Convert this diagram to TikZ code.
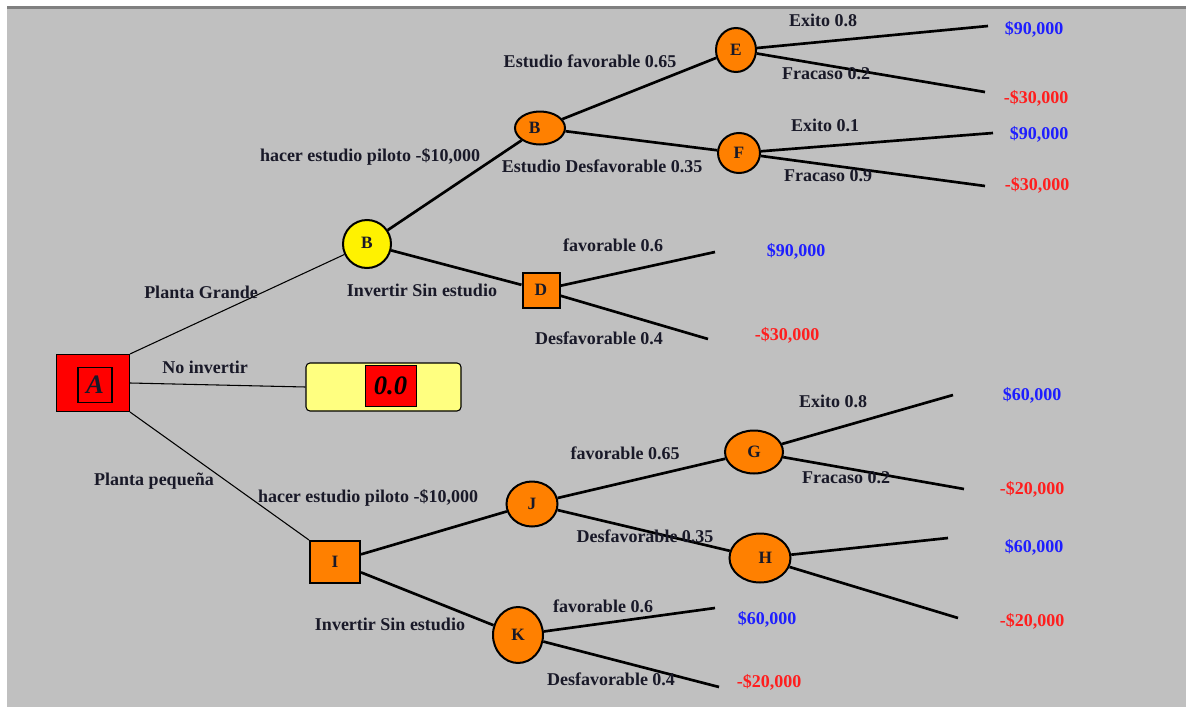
\documentclass[tikz,border=0pt]{standalone}
\usepackage{fontspec}
\setmainfont{Liberation Serif}
\usetikzlibrary{shapes.geometric}
\definecolor{bg}{RGB}{192,192,192}
\definecolor{orng}{RGB}{255,128,0}
\definecolor{txt}{RGB}{25,25,40}
\definecolor{pblue}{RGB}{30,30,255}
\definecolor{pred}{RGB}{255,30,30}
\definecolor{lyel}{RGB}{255,255,128}
\definecolor{topline}{RGB}{128,128,128}
\begin{document}
\begin{tikzpicture}[x=0.75pt,y=-0.75pt,
  lbl/.style={font=\bfseries\fontsize{13.5}{15}\selectfont, text=txt, inner sep=0},
  posv/.style={lbl, text=pblue},
  negv/.style={lbl, text=pred},
  chance/.style={ellipse, draw=black, line width=1.5pt, fill=orng, inner sep=0, text=txt, font=\bfseries\fontsize{13}{14}\selectfont},
  decbox/.style={rectangle, draw=black, line width=1.5pt, fill=orng, inner sep=0, text=txt, font=\bfseries\fontsize{13}{14}\selectfont},
  br/.style={line width=2pt, draw=black},
  thinbr/.style={line width=0.8pt, draw=black}]

\useasboundingbox (0,0) rectangle (1186,707);
\fill[white] (0,0) rectangle (1186,707);
\fill[bg] (7,8) rectangle (1186,707);
\draw[topline, line width=2pt] (7,7.5) -- (1186,7.5);

% decision node A
\node[rectangle, draw=black, line width=0.8pt, fill=red, minimum width=54.75pt, minimum height=42.75pt, inner sep=0] (A) at (93,383) {};
\node[rectangle, draw=black, line width=0.8pt, fill=red, minimum width=25.5pt, minimum height=26.25pt, inner sep=0, font=\bfseries\itshape\fontsize{20}{22}\selectfont, text=txt] (Ain) at (95,385) {A};

% yellow terminal box
\node[rectangle, rounded corners=3pt, draw=black, line width=0.8pt, fill=lyel, minimum width=116.25pt, minimum height=36pt, inner sep=0] (Y) at (383.5,387) {};
\node[rectangle, draw=black, line width=0.6pt, fill=red, minimum width=38.25pt, minimum height=30.75pt, inner sep=0, font=\bfseries\itshape\fontsize{20}{22}\selectfont, text=black] (Yin) at (390.5,385.5) {0.0};

% upper tree
\node[circle, draw=black, line width=1.5pt, fill=yellow, minimum size=36pt, inner sep=0, text=txt, font=\bfseries\fontsize{13}{14}\selectfont] (By) at (367,244) {\raisebox{2pt}{B}};
\node[chance, minimum width=37.5pt, minimum height=24.75pt] (Bo) at (540,128) {\hspace*{-8pt}B};
\node[chance, minimum width=30pt, minimum height=33pt] (E) at (736,50) {E};
\node[chance, minimum width=31.5pt, minimum height=30pt] (F) at (739,153) {F};
\node[decbox, minimum width=27.75pt, minimum height=26.25pt] (D) at (541,290) {D};

% lower tree
\node[decbox, minimum width=37.5pt, minimum height=31.5pt] (I) at (335,562) {\raisebox{-7pt}{I}};
\node[chance, minimum width=38.25pt, minimum height=33.75pt] (J) at (532,504) {J};
\node[chance, minimum width=43.5pt, minimum height=32.25pt] (G) at (754,452) {G};
\node[chance, minimum width=45.75pt, minimum height=36.75pt] (H) at (760,558) {\hspace*{8pt}\raisebox{-3pt}{H}};
\node[chance, minimum width=37.5pt, minimum height=42pt] (K) at (518,635) {K};

% free ends
\coordinate (e1) at (988,26);
\coordinate (e2) at (985,92);
\coordinate (f1) at (993,133);
\coordinate (f2) at (985,186);
\coordinate (d1) at (715,252);
\coordinate (d2) at (708,339);
\coordinate (g1) at (953,395);
\coordinate (g2) at (964,489);
\coordinate (h1) at (948,538);
\coordinate (h2) at (958,618);
\coordinate (k1) at (715,608);
\coordinate (k2) at (719,687);

% connectors
\begin{scope}[on background layer/.style={}]
\draw[thinbr] (A.north east) -- (By);
\draw[thinbr] (A.east) -- (Y.west);
\draw[thinbr] (A.south east) -- (I.north west);
\draw[br] (By) -- (Bo);
\draw[br] (By) -- (D);
\draw[br] (Bo) -- (E);
\draw[br] (Bo) -- (F);
\draw[br] (E) -- (e1);
\draw[br] (E) -- (e2);
\draw[br] (F) -- (f1);
\draw[br] (F) -- (f2);
\draw[br] (D) -- (d1);
\draw[br] (D) -- (d2);
\draw[br] (I) -- (J);
\draw[br] (I) -- (K);
\draw[br] (J) -- (G);
\draw[br] (J) -- (H);
\draw[br] (G) -- (g1);
\draw[br] (G) -- (g2);
\draw[br] (H) -- (h1);
\draw[br] (H) -- (h2);
\draw[br] (K) -- (k1);
\draw[br] (K) -- (k2);
\end{scope}

% labels upper
\node[lbl] (l1) at (823,20) {Exito 0.8};
\node[lbl] (l2) at (826,74) {Fracaso 0.2};
\node[lbl] (l3) at (825,125) {Exito 0.1};
\node[lbl] (l4) at (828,176) {Fracaso 0.9};
\node[lbl] (l5) at (590,61) {Estudio favorable 0.65};
\node[lbl] (l6) at (602,166) {Estudio Desfavorable 0.35};
\node[lbl] (l7) at (370,157) {hacer estudio piloto -\$10,000};
\node[lbl] (l8) at (201,292) {Planta Grande};
\node[lbl] (l9) at (422,290) {Invertir Sin estudio};
\node[lbl] (l10) at (613,245) {favorable 0.6};
\node[lbl] (l11) at (599,338) {Desfavorable 0.4};
\node[lbl] (l12) at (205,367) {No invertir};
\node[posv] (v1) at (1034,29) {\$90,000};
\node[negv] (v2) at (1036,98) {-\$30,000};
\node[posv] (v3) at (1039,134) {\$90,000};
\node[negv] (v4) at (1037,185) {-\$30,000};
\node[posv] (v5) at (796,251) {\$90,000};
\node[negv] (v6) at (787,335) {-\$30,000};

% labels lower
\node[lbl] (l13) at (154,481) {Planta pequeña};
\node[lbl] (l14) at (368,498) {hacer estudio piloto -\$10,000};
\node[lbl] (l15) at (390,624) {Invertir Sin estudio};
\node[lbl] (l16) at (625,453) {favorable 0.65};
\node[lbl] (l17) at (645,536) {Desfavorable 0.35};
\node[lbl] (l18) at (833,401) {Exito 0.8};
\node[lbl] (l19) at (846,478) {Fracaso 0.2};
\node[lbl] (l20) at (603,606) {favorable 0.6};
\node[lbl] (l21) at (611,679) {Desfavorable 0.4};
\node[posv] (v7) at (1032,395) {\$60,000};
\node[negv] (v8) at (1032,489) {-\$20,000};
\node[posv] (v9) at (1034,547) {\$60,000};
\node[negv] (v10) at (1032,621) {-\$20,000};
\node[posv] (v11) at (767,619) {\$60,000};
\node[negv] (v12) at (769,682) {-\$20,000};
\end{tikzpicture}
\end{document}
